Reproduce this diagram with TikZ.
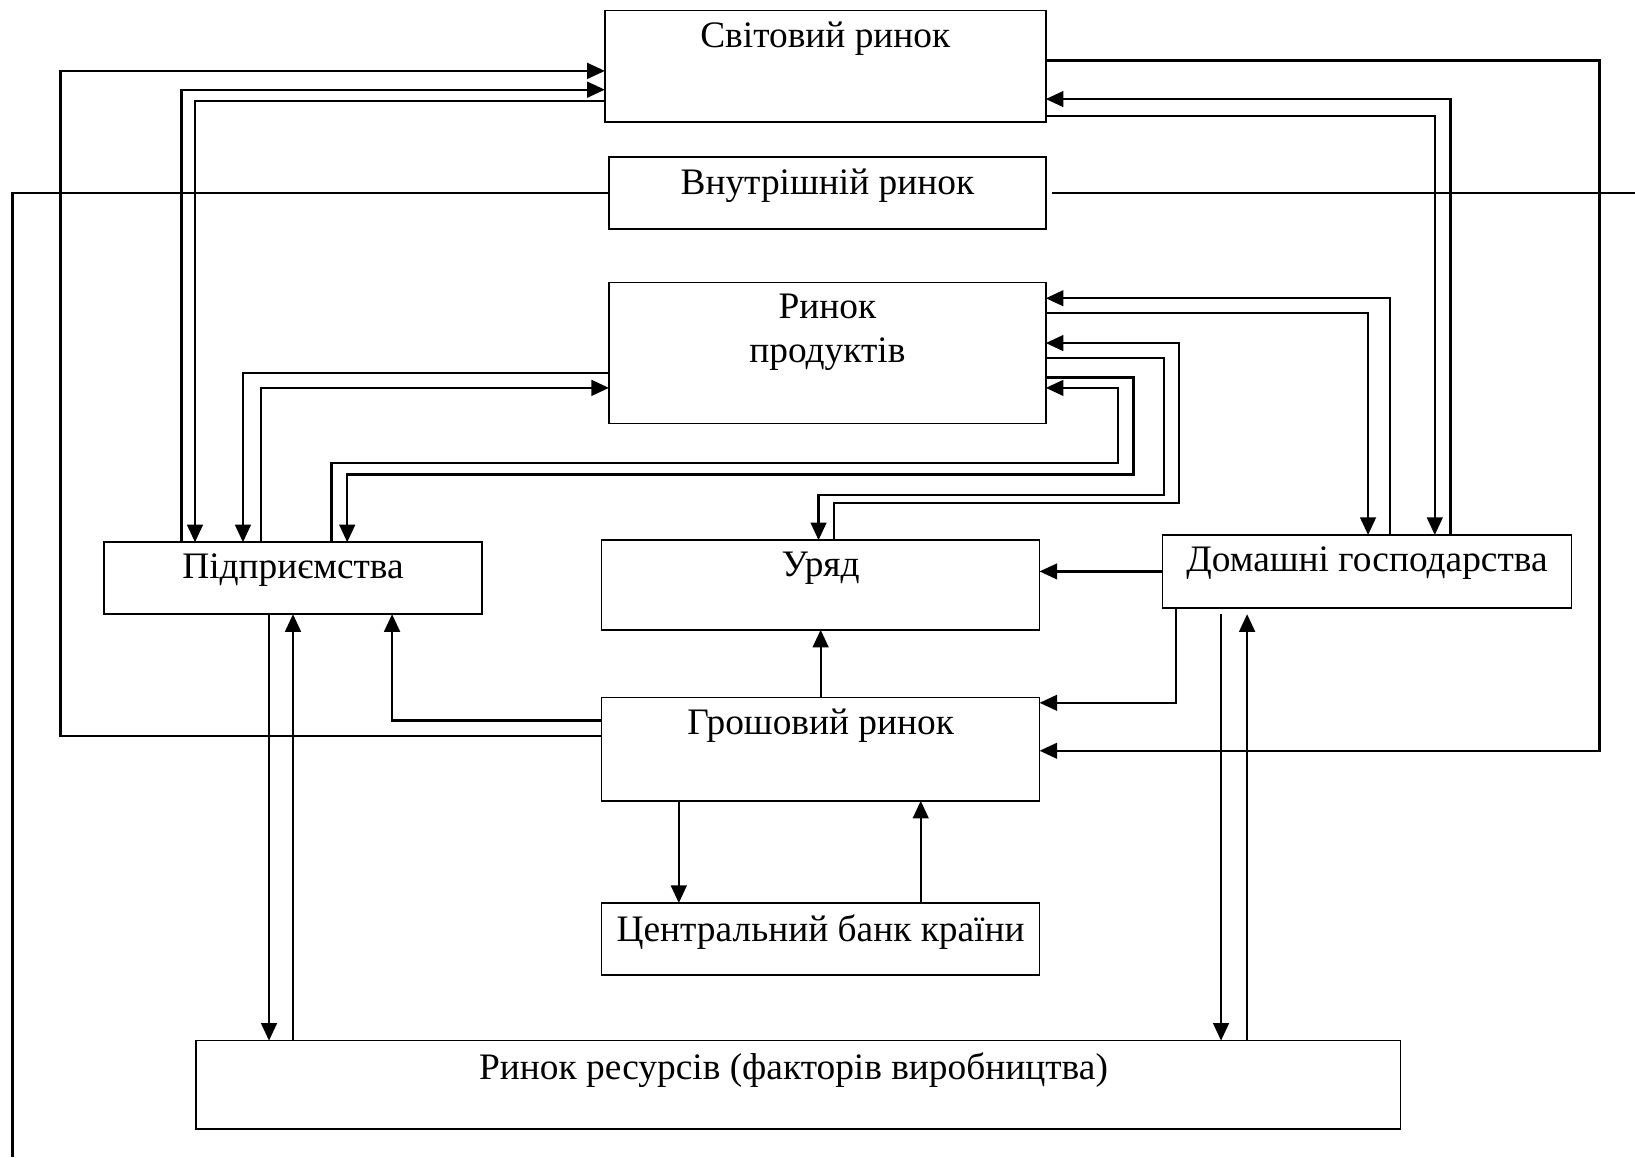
\documentclass[tikz,border=0pt]{standalone}
\usepackage{fontspec}
\setmainfont{Liberation Serif}
\usetikzlibrary{arrows.meta}
\tikzset{
>={Triangle[length=4.8pt,width=4.3pt]},
    box/.style={rectangle, draw=black, line width=0.45pt, inner sep=0pt, outer sep=0pt},
    boxtext/.style={anchor=north, inner xsep=0pt, inner ysep=3pt, align=center,
      font=\fontsize{10.2}{12}\selectfont},
    flow/.style={draw, line width=0.6pt, ->},
    wire/.style={draw, line width=0.6pt},
}

\begin{document}
\begin{tikzpicture}[x=0.1mm,y=-0.1mm]
\useasboundingbox (0,0) rectangle (1568,1110);

  %% Draw Markets and Sectors
  \foreach \n/\x/\y/\w/\h/\t in {svit/791.5/63.5/42.3/10.7/Світовий ринок,
                     vnutr/793.5/185/41.9/6.9/Внутрішній ринок,
                     prod/793.5/338.5/41.9/13.5/Ринок\\продуктів,
                     pidpr/281/554.5/36.2/6.9/Підприємства,
                     uriad/787/561/42/8.6/Уряд,
                     domg/1311/548/39.2/7/Домашні господарства,
                     grosh/787/718.5/42/9.9/Грошовий ринок,
                     cb/787/900.5/42/6.9/Центральний банк країни,
                     res/765.5/1040.5/115.5/8.5/Ринок ресурсів (факторів виробництва)
                     }{
  \node[box, minimum width=\w mm, minimum height=\h mm] (\n) at (\x,\y) {};
  \node[boxtext] (\n-t) at (\n.north) {\t};
  }

  %% Free ends of the domestic market line
  \coordinate (endL) at (12,1110);
  \coordinate (endR) at (1568,185);

  %% World market links
  \draw[flow] (grosh.west |- 0,706) -| (58,68) -- (svit.west |- 0,68);
  \draw[flow] (pidpr.north -| 174,0) |- (svit.west |- 0,86);
  \draw[flow] (svit.west |- 0,97) -| (pidpr.north -| 187,0);
  \draw[flow] (svit.east |- 0,111) -| (domg.north -| 1376,0);
  \draw[flow] (domg.north -| 1391,0) |- (svit.east |- 0,95);
  \draw[flow] (svit.east |- 0,58) -| (1534,720) -- (grosh.east |- 0,720);

  %% Domestic market
  \draw[wire] (vnutr.west |- 0,185) -| (endL);
  \draw[wire] ([xshift=0.6mm]vnutr.east) -- (endR);

  %% Product market links
  \draw[flow] (prod.west |- 0,358) -| (pidpr.north -| 233,0);
  \draw[flow] (pidpr.north -| 250,0) |- (prod.west |- 0,372);
  \draw[flow] (pidpr.north -| 318,0) |- (1072,444) |- (prod.east |- 0,372);
  \draw[flow] (prod.east |- 0,362) -| (1087,455) -| (pidpr.north -| 333,0);
  \draw[flow] (prod.east |- 0,343) -| (1116,475) -| (uriad.north -| 785,0);
  \draw[flow] (uriad.north -| 800,0) |- (1131,482) |- (prod.east |- 0,329);
  \draw[flow] (prod.east |- 0,300) -| (domg.north -| 1312,0);
  \draw[flow] (domg.north -| 1333,0) |- (prod.east |- 0,286);

  %% Money market links
  \draw[flow] (domg.west |- 0,548) -- (uriad.east |- 0,548);
  \draw[flow] (domg.south -| 1128,0) |- (grosh.east |- 0,674);
  \draw[flow] (grosh.west |- 0,691) -| (pidpr.south -| 376,0);
  \draw[flow] (grosh.north) -- (uriad.south);
  \draw[flow] (grosh.south -| 651,0) -- (cb.north -| 651,0);
  \draw[flow] (cb.north -| 883,0) -- (grosh.south -| 883,0);

  %% Resource market links
  \foreach \a/\b in {258/281, 1171/1196}{
  \draw[flow] (pidpr.south -| \a,0) -- (res.north -| \a,0);
  \draw[flow] (res.north -| \b,0) -- (pidpr.south -| \b,0);
  }

\end{tikzpicture}
\end{document}
